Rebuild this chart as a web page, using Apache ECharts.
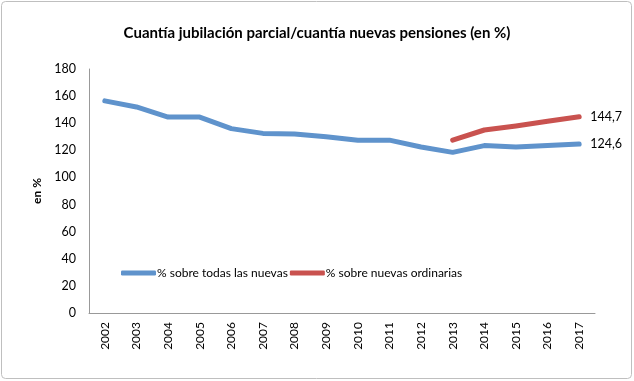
<!DOCTYPE html>
<html><head><meta charset="utf-8">
<script src="https://cdn.jsdelivr.net/npm/echarts@6/dist/echarts.min.js"></script>
<style>html,body{margin:0;padding:0;background:#fff}#c{width:634px;height:381px}</style>
</head><body><div id="c"></div>
<script>
var years = ['2002','2003','2004','2005','2006','2007','2008','2009','2010','2011','2012','2013','2014','2015','2016','2017'];
var todas = [156.5,152,144.5,144.5,136,132.5,132,130,127.5,127.5,122.5,118.5,123.5,122.5,123.5,124.6];
var ordinarias = [null,null,null,null,null,null,null,null,null,null,null,127.5,135,138,141.5,144.7];
var titleText = 'Cuantía jubilación parcial/cuantía nuevas pensiones (en %)';
var yName = 'en %';
var names = ['% sobre todas las nuevas','% sobre nuevas ordinarias'];
var font = 'Lato, "Open Sans", sans-serif';
var chart = echarts.init(document.getElementById('c'));
function endLabel(){
  return {show:true, formatter:function(p){return String(p.value).replace('.',',');}, color:'#000', fontFamily:font, fontSize:12.5, distance:11};
}
chart.setOption({
  animation:false,
  graphic:[{type:'rect', shape:{x:1.5,y:1.5,width:630,height:377,r:4}, style:{fill:'none',stroke:'#bfbfbf',lineWidth:1}, silent:true}],
  title:{text:titleText, left:'center', top:21, textStyle:{fontFamily:font, fontSize:15, fontWeight:'bold', color:'#000'}},
  legend:{data:[{name:names[0]},{name:names[1]}], left:116, top:262, itemWidth:35, itemHeight:5, itemGap:2, icon:'roundRect',
    textStyle:{fontFamily:font, fontSize:12, color:'#000', padding:[0,0,0,-4]}},
  grid:{left:89, right:39, top:69, bottom:68},
  xAxis:{type:'category', data:years, boundaryGap:true,
    axisLine:{lineStyle:{color:'#999'}}, axisTick:{show:false},
    axisLabel:{rotate:90, color:'#000', fontFamily:font, fontSize:12, margin:9, interval:0}},
  yAxis:{type:'value', min:0, max:180, interval:20, name:yName, nameLocation:'middle', nameGap:42, nameRotate:90,
    nameTextStyle:{fontFamily:font, fontSize:12, fontWeight:'bold', color:'#000'},
    axisLine:{show:true, lineStyle:{color:'#999'}}, axisTick:{show:false},
    splitLine:{show:false},
    axisLabel:{color:'#000', fontFamily:font, fontSize:12.5, margin:13}},
  series:[
    {name:names[0], type:'line', data:todas, showSymbol:false, symbol:'none', lineStyle:{width:5, color:'#5f93cc', cap:'round', join:'round'}, itemStyle:{color:'#5f93cc'},
     endLabel:endLabel()},
    {name:names[1], type:'line', data:ordinarias, showSymbol:false, symbol:'none', lineStyle:{width:5, color:'#c9524f', cap:'round', join:'round'}, itemStyle:{color:'#c9524f'},
     endLabel:endLabel()}
  ]
});
</script></body></html>
